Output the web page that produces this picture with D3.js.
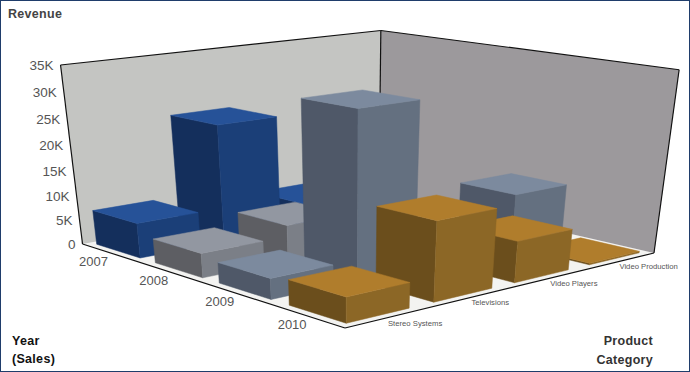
<!DOCTYPE html>
<html>
<head>
<meta charset="utf-8">
<script src="https://cdn.jsdelivr.net/npm/d3@7"></script>
<style>
html, body { margin: 0; padding: 0; background: #fff; }
svg { display: block; }
text { font-family: "Liberation Sans", Arial, sans-serif; }
</style>
</head>
<body>
<script>
// chart values
var years = ["2007", "2008", "2009", "2010"];
var products = ["Stereo Systems", "Televisions", "Video Players", "Video Production"];
var revenueTicks = [0, 5000, 10000, 15000, 20000, 25000, 30000, 35000];
var sales2007 = [7000, 23500, 5000, 0];
var sales2008 = [4800, 7000, 0, 0];
var sales2009 = [4000, 31500, 0, 10500];
var sales2010 = [4800, 15000, 8000, 300];
var salesByYear = [sales2007, sales2008, sales2009, sales2010];
// small nudges so each product label sits where the reference has it
var productLabelShift = [29, 19, 24, 26];

var barColors = [
    {top: "#265298", right: "#1b3f78", left: "#142f5c"},
    {top: "#9297a1", right: "#7b7f87", left: "#5d5e63"},
    {top: "#7c8a9e", right: "#647080", left: "#4f5868"},
    {top: "#b07d2c", right: "#8c6726", left: "#6b4e1c"}
];

var width = 690, height = 372;

var svg = d3.select("body").append("svg")
    .attr("width", width)
    .attr("height", height);

svg.append("rect")
    .attr("x", 0.5).attr("y", 0.5)
    .attr("width", width - 1).attr("height", height - 1)
    .attr("fill", "#fff")
    .attr("stroke", "#1f3d6b");

// floor homography, unit square -> the four floor corners of the picture
var floorCorners = [[82.5, 244], [345, 328], [654, 253], [379, 190]];
var verticalVanish = [353, 2448];
var wallTopY = 65;

function squareToQuad(q) {
    var x0 = q[0][0], y0 = q[0][1], x1 = q[1][0], y1 = q[1][1];
    var x2 = q[2][0], y2 = q[2][1], x3 = q[3][0], y3 = q[3][1];
    var dx1 = x1 - x2, dx2 = x3 - x2, sx = x0 - x1 + x2 - x3;
    var dy1 = y1 - y2, dy2 = y3 - y2, sy = y0 - y1 + y2 - y3;
    var den = dx1 * dy2 - dx2 * dy1;
    var g = (sx * dy2 - dx2 * sy) / den;
    var h = (dx1 * sy - sx * dy1) / den;
    return [x1 - x0 + g * x1, x3 - x0 + h * x3, x0,
            y1 - y0 + g * y1, y3 - y0 + h * y3, y0,
            g, h, 1];
}
var H = squareToQuad(floorCorners);

// k so that the full height at the left corner lands on the top of the wall
var t = (wallTopY - floorCorners[0][1]) / (verticalVanish[1] - floorCorners[0][1]);
var k = t / (1 - t);

function project(u, v, z) {
    var w = H[6] * u + H[7] * v + H[8] + k * z;
    return [
        (H[0] * u + H[1] * v + H[2] + k * z * verticalVanish[0]) / w,
        (H[3] * u + H[4] * v + H[5] + k * z * verticalVanish[1]) / w
    ];
}

// scales
var yearScale = d3.scaleBand().domain(years).range([0, 1]).paddingInner(0.25).paddingOuter(0.1);
var productScale = d3.scaleBand().domain(products).range([0, 1]).paddingInner(0.29).paddingOuter(0.1);
var revenueScale = d3.scaleLinear().domain([0, 35000]).range([0, 1]);

function poly(pts) {
    return "M" + pts.map(function(p) { return p[0] + "," + p[1]; }).join("L") + "Z";
}

// floor and walls
svg.append("path")
    .attr("d", poly([project(0,0,0), project(1,0,0), project(1,1,0), project(0,1,0)]))
    .attr("fill", "#f3f3f1");
svg.append("path")
    .attr("d", poly([project(0,0,0), project(0,1,0), project(0,1,1), project(0,0,1)]))
    .attr("fill", "#c4c5c2");
svg.append("path")
    .attr("d", poly([project(0,1,0), project(1,1,0), project(1,1,1), project(0,1,1)]))
    .attr("fill", "#9c999c");

// wall outlines
var outline = [
    [[0,0,0],[0,0,1]], [[0,0,1],[0,1,1]], [[0,1,1],[0,1,0]],
    [[0,1,1],[1,1,1]], [[1,1,1],[1,1,0]],
    [[0,0,0],[1,0,0]], [[1,0,0],[1,1,0]]
];
svg.selectAll("line.edge")
    .data(outline)
    .enter().append("line")
    .attr("class", "edge")
    .attr("x1", function(d) { return project.apply(null, d[0])[0]; })
    .attr("y1", function(d) { return project.apply(null, d[0])[1]; })
    .attr("x2", function(d) { return project.apply(null, d[1])[0]; })
    .attr("y2", function(d) { return project.apply(null, d[1])[1]; })
    .attr("stroke", "#111")
    .attr("stroke-width", 1.2);

// bars, back to front
var bars = [];
years.forEach(function(year, i) {
    products.forEach(function(product, j) {
        var value = salesByYear[i][j];
        if (value > 0) bars.push({year: year, product: product, value: value, colors: barColors[i]});
    });
});
bars.sort(function(a, b) {
    return years.indexOf(a.year) - years.indexOf(b.year) || products.indexOf(b.product) - products.indexOf(a.product);
});

var barG = svg.selectAll("g.bar")
    .data(bars)
    .enter().append("g")
    .attr("class", "bar");

function facePath(d, which) {
    var u0 = yearScale(d.year), u1 = u0 + yearScale.bandwidth();
    var v0 = productScale(d.product), v1 = v0 + productScale.bandwidth();
    var z = revenueScale(d.value);
    if (which == "left") return poly([project(u0,v0,0), project(u1,v0,0), project(u1,v0,z), project(u0,v0,z)]);
    if (which == "right") return poly([project(u1,v0,0), project(u1,v1,0), project(u1,v1,z), project(u1,v0,z)]);
    return poly([project(u0,v0,z), project(u1,v0,z), project(u1,v1,z), project(u0,v1,z)]);
}

["left", "right", "top"].forEach(function(which) {
    barG.append("path")
        .attr("d", function(d) { return facePath(d, which); })
        .attr("fill", function(d) { return d.colors[which]; })
        .attr("stroke", function(d) { return d.colors[which]; })
        .attr("stroke-width", 0.5);
});

// value axis labels
svg.selectAll("text.tick")
    .data(revenueTicks)
    .enter().append("text")
    .attr("class", "tick")
    .attr("x", function(d) { return project(0, 0, revenueScale(d))[0] - 7; })
    .attr("y", function(d) { return project(0, 0, revenueScale(d))[1] + 5; })
    .attr("text-anchor", "end")
    .attr("font-size", 13.5)
    .attr("fill", "#555")
    .text(function(d) { return d == 0 ? "0" : (d / 1000) + "K"; });

// year labels
svg.selectAll("text.year")
    .data(years)
    .enter().append("text")
    .attr("class", "year")
    .attr("x", function(d) { return project(yearScale(d) + yearScale.bandwidth() / 2, 0, 0)[0] - 16; })
    .attr("y", function(d) { return project(yearScale(d) + yearScale.bandwidth() / 2, 0, 0)[1] + 13; })
    .attr("text-anchor", "middle")
    .attr("font-size", 13)
    .attr("fill", "#555")
    .text(function(d) { return d; });

// product labels
svg.selectAll("text.product")
    .data(products)
    .enter().append("text")
    .attr("class", "product")
    .attr("x", function(d, i) { return project(1, productScale(d) + productScale.bandwidth() / 2, 0)[0] + productLabelShift[i]; })
    .attr("y", function(d) { return project(1, productScale(d) + productScale.bandwidth() / 2, 0)[1] + 8; })
    .attr("text-anchor", "middle")
    .attr("font-size", 7.7)
    .attr("fill", "#555")
    .text(function(d) { return d; });

// axis titles
function title(x, y, anchor, str, color) {
    svg.append("text")
        .attr("x", x).attr("y", y)
        .attr("text-anchor", anchor)
        .attr("font-size", 12.5)
        .attr("font-weight", "bold")
        .attr("letter-spacing", 0.3)
        .attr("fill", color)
        .text(str);
}
title(8, 18, "start", "Revenue", "#444");
title(12, 345, "start", "Year", "#111");
title(12, 363, "start", "(Sales)", "#111");
title(653, 345, "end", "Product", "#333");
title(653, 364, "end", "Category", "#333");
</script>
</body>
</html>
